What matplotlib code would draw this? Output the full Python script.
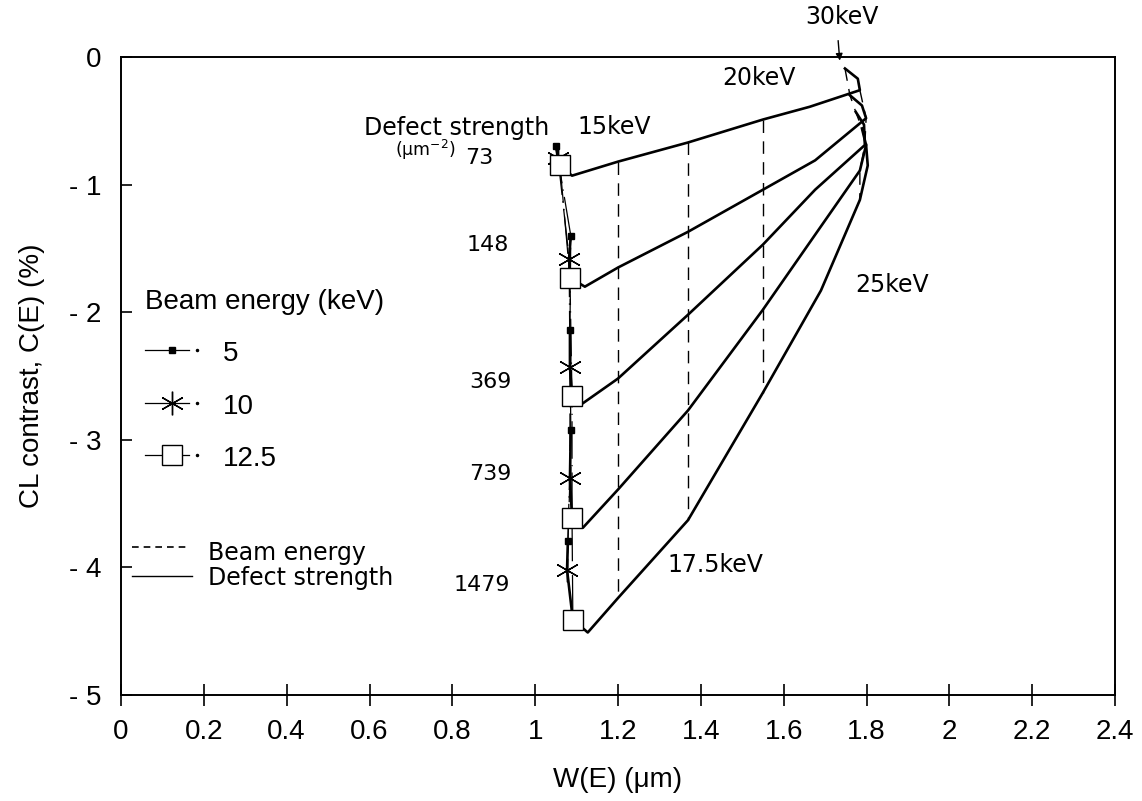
import matplotlib.pyplot as plt

# beam energies (keV) at which each defect-strength curve is sampled
energies = [5, 10, 12.5, 13.5, 15, 17.5, 20, 22.5, 25, 27.5, 30]
strengths = ['73', '148', '369', '739', '1479']

# W(E) in um, one list per defect strength
w_73 = [1.050, 1.055, 1.060, 1.089, 1.200, 1.369, 1.550, 1.663, 1.784, 1.779, 1.748]
w_148 = [1.086, 1.082, 1.084, 1.120, 1.200, 1.369, 1.550, 1.676, 1.799, 1.789, 1.760]
w_369 = [1.084, 1.084, 1.089, 1.108, 1.200, 1.369, 1.550, 1.676, 1.796, 1.794, 1.774]
w_739 = [1.086, 1.084, 1.089, 1.115, 1.200, 1.369, 1.550, 1.683, 1.784, 1.799, 1.789]
w_1479 = [1.079, 1.077, 1.091, 1.127, 1.200, 1.369, 1.550, 1.690, 1.784, 1.803, 1.799]

# CL contrast C(E) in %
c_73 = [-0.70, -0.79, -0.85, -0.93, -0.82, -0.67, -0.49, -0.39, -0.26, -0.17, -0.09]
c_148 = [-1.40, -1.58, -1.73, -1.80, -1.65, -1.37, -1.04, -0.81, -0.48, -0.38, -0.30]
c_369 = [-2.14, -2.43, -2.66, -2.73, -2.52, -2.02, -1.47, -1.04, -0.69, -0.53, -0.43]
c_739 = [-2.92, -3.30, -3.61, -3.69, -3.39, -2.77, -1.98, -1.36, -0.89, -0.69, -0.56]
c_1479 = [-3.79, -4.02, -4.41, -4.51, -4.24, -3.63, -2.63, -1.83, -1.12, -0.85, -0.69]

W = [w_73, w_148, w_369, w_739, w_1479]
C = [c_73, c_148, c_369, c_739, c_1479]

xticks = [0, 0.2, 0.4, 0.6, 0.8, 1, 1.2, 1.4, 1.6, 1.8, 2, 2.2, 2.4]
xlabels = ['0', '0.2', '0.4', '0.6', '0.8', '1', '1.2', '1.4', '1.6', '1.8', '2', '2.2', '2.4']
yticks = [0, -1, -2, -3, -4, -5]
ylabels = ['0', '- 1', '- 2', '- 3', '- 4', '- 5']

sans = 'Liberation Sans'
wide = 'DejaVu Sans'

fig = plt.figure(figsize=(11.42, 8.01), dpi=100)
ax = fig.add_axes([121 / 1142, 106 / 801, 994 / 1142, 638 / 801])
ax.set_xlim(0, 2.4)
ax.set_ylim(-5, 0)

# solid lines: constant defect strength
for w, c in zip(W, C):
    ax.plot(w, c, color='black', lw=1.9, solid_joinstyle='round', zorder=3)

# dashed lines: constant beam energy
dash_style = (0, (9, 6))
mark_style = (0, (30, 5, 1, 5))
markers = {5: dict(marker='s', ms=5, mfc='black', mec='black'),
           10: dict(marker=(6, 2, 0), ms=17, mew=1.0, mec='black'),
           12.5: dict(marker='s', ms=15, mfc='white', mec='black', mew=1.0)}
for i, e in enumerate(energies):
    if e in (13.5, 22.5, 27.5):
        continue
    xs = [w[i] for w in W]
    ys = [c[i] for c in C]
    if e in markers:
        ax.plot(xs, ys, color='black', lw=0.9, ls=mark_style, zorder=4, **markers[e])
    else:
        ax.plot(xs, ys, color='black', lw=1.0, ls=dash_style, zorder=2)

ax.set_xticks(xticks)
ax.set_xticklabels(xlabels, fontsize=20, family=sans)
ax.set_yticks(yticks)
ax.set_yticklabels(ylabels, fontsize=20, family=sans)
ax.tick_params(axis='x', direction='inout', length=16, width=1.2, pad=9)
ax.tick_params(axis='y', direction='in', length=8, width=1.2, pad=14)
for s in ax.spines.values():
    s.set_linewidth(1.4)

ax.set_xlabel('W(E) (μm)', fontsize=20, family=sans, labelpad=16)
ax.set_ylabel('CL contrast, C(E) (%)', fontsize=20, family=sans, labelpad=17)

# energy labels
ax.text(1.741, 0.31, '30keV', fontsize=17, family=wide, ha='center', va='center', clip_on=False)
ax.annotate('', xy=(1.736, -0.05), xytext=(1.731, 0.15),
            arrowprops=dict(arrowstyle='-|>', color='black', lw=1.0, mutation_scale=10),
            annotation_clip=False)
ax.text(1.540, -0.165, '20keV', fontsize=17, family=wide, ha='center', va='center')
ax.text(1.190, -0.55, '15keV', fontsize=17, family=wide, ha='center', va='center')
ax.text(1.861, -1.79, '25keV', fontsize=17, family=wide, ha='center', va='center')
ax.text(1.434, -3.98, '17.5keV', fontsize=17, family=wide, ha='center', va='center')

# defect strength labels
ax.text(0.811, -0.556, 'Defect strength', fontsize=17, family=wide, ha='center', va='center')
ax.text(0.734, -0.729, '(μm$^{-2}$)', fontsize=12.5, family=wide, ha='center', va='center')
label_y = [-0.79, -1.47, -2.55, -3.27, -4.14]
label_x = [0.864, 0.886, 0.891, 0.891, 0.872]
for s, lx, ly in zip(strengths, label_x, label_y):
    ax.text(lx, ly, s, fontsize=16, family=wide, ha='center', va='center')

# beam energy key
ax.text(0.058, -1.92, 'Beam energy (keV)', fontsize=20, family=sans, ha='left', va='center')
key_y = [-2.30, -2.71, -3.12]
for e, ky in zip([5, 10, 12.5], key_y):
    ax.plot([0.058, 0.163], [ky, ky], color='black', lw=0.9)
    ax.plot([0.123], [ky], color='black', ls='none', **markers[e])
    ax.plot([0.184], [ky], marker='o', ms=1.5, color='black')
    ax.text(0.246, ky - 0.03, str(e), fontsize=20, family=sans, ha='left', va='center')

# line style key
ax.plot([0.027, 0.167], [-3.84, -3.84], color='black', lw=1.2, ls=(0, (4, 3)))
ax.text(0.210, -3.89, 'Beam energy', fontsize=17, family=wide, ha='left', va='center')
ax.plot([0.027, 0.171], [-4.07, -4.07], color='black', lw=1.0)
ax.text(0.210, -4.08, 'Defect strength', fontsize=17, family=wide, ha='left', va='center')

fig.savefig('out.png', dpi=100)
